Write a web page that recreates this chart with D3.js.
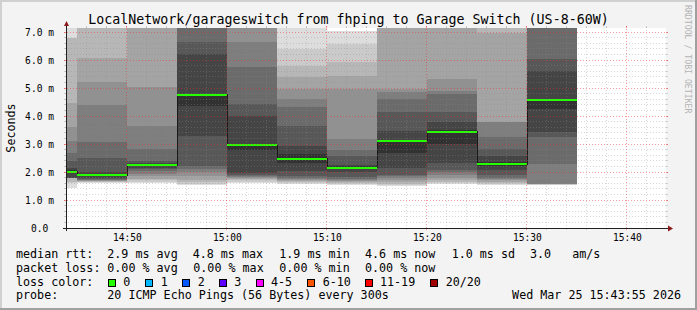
<!DOCTYPE html>
<html>
<head>
<meta charset="utf-8">
<script src="https://d3js.org/d3.v7.min.js"></script>
<style>
  body { margin: 0; background: #f3f3f3; }
  svg text { font-family: "DejaVu Sans Mono", monospace; white-space: pre; }
</style>
</head>
<body>
<script>
// Smokeping graph: LocalNetwork/garageswitch, last hour

// 5 minute rrd bins (start times), last one ends at 15:35
const binStarts = ["14:40", "14:45", "14:50", "14:55", "15:00", "15:05",
                   "15:10", "15:15", "15:20", "15:25", "15:30"];
const lastBinEnd = "15:35";
const graphStart = "14:43:55";
const graphEnd = "15:43:55";

// median rtt per bin (ms)
const medianRtt = [2.01, 1.88, 2.24, 4.76, 2.95, 2.48, 2.16, 3.12, 3.44, 2.27, 4.56];

// packet loss per bin (index into loss legend)
const binLoss = [0, 0, 0, 0, 0, 0, 0, 0, 0, 0, 0];

// the 20 sorted pings of every bin (ms), values above the top are off the graph
const smokePings = [
    [1.44, 1.62, 1.63, 1.78, 1.79, 1.79, 1.80, 1.80, 1.80, 1.98, 2.06, 2.15, 2.39, 2.68, 3.09, 3.60, 4.47, 6.79, 6.80, 7.9],
    [1.60, 1.63, 1.66, 1.68, 1.69, 1.70, 1.71, 1.74, 1.78, 1.84, 1.90, 1.99, 2.49, 3.08, 4.40, 5.22, 6.07, 7.6, 8.1, 8.8],
    [1.61, 1.65, 1.70, 1.75, 1.85, 1.93, 2.02, 2.11, 2.14, 2.21, 2.27, 2.32, 2.40, 2.82, 3.65, 5.05, 7.5, 7.9, 8.4, 9.2],
    [1.53, 1.58, 1.63, 1.72, 1.85, 1.99, 2.10, 2.23, 3.30, 4.37, 4.80, 6.21, 6.63, 7.3, 7.6, 7.9, 8.3, 8.7, 9.1, 9.8],
    [1.62, 1.66, 1.70, 1.74, 1.79, 1.82, 1.86, 1.90, 1.95, 2.80, 3.00, 4.01, 4.43, 5.74, 6.63, 7.4, 7.8, 8.2, 8.7, 9.3],
    [1.57, 1.60, 1.63, 1.67, 1.70, 1.75, 1.79, 1.87, 2.02, 2.32, 2.64, 2.94, 3.65, 4.31, 4.61, 4.97, 5.38, 5.80, 6.41, 7.7],
    [1.54, 1.58, 1.62, 1.66, 1.69, 1.72, 1.75, 1.81, 1.99, 2.10, 2.20, 2.25, 2.58, 2.79, 3.18, 4.97, 5.44, 5.92, 6.57, 7.05],
    [1.49, 1.53, 1.58, 1.65, 1.72, 1.80, 1.85, 1.90, 2.14, 2.68, 3.16, 3.48, 4.13, 4.61, 4.84, 4.96, 7.4, 7.9, 8.5, 9.0],
    [1.58, 1.62, 1.66, 1.72, 1.80, 1.90, 1.99, 2.08, 2.32, 3.00, 3.50, 3.80, 4.13, 4.79, 4.90, 5.32, 7.5, 7.9, 8.4, 9.1],
    [1.55, 1.58, 1.61, 1.66, 1.70, 1.75, 1.80, 1.90, 2.08, 2.20, 2.35, 2.58, 2.82, 3.24, 3.77, 3.80, 6.96, 7.6, 8.0, 8.6],
    [1.55, 1.55, 1.555, 1.56, 1.57, 1.58, 2.29, 3.24, 3.42, 4.25, 4.60, 5.62, 6.03, 7.3, 7.6, 7.9, 8.2, 8.6, 9.0, 9.5]
];

// axes
const yMax = 7.143;
const yTicks = [0, 1, 2, 3, 4, 5, 6, 7];
const yTickLabels = ["0.0 ", "1.0 m", "2.0 m", "3.0 m", "4.0 m", "5.0 m", "6.0 m", "7.0 m"];
const xTicks = ["14:50", "15:00", "15:10", "15:20", "15:30", "15:40"];

// legend values
const rttStats = [2.9, 4.8, 1.9, 4.6, 1.0];
const rttStatNames = ["avg", "max", "min", "now", "sd"];
const amPerSec = 3.0;
const lossStats = [0, 0, 0, 0];
const lossStatNames = ["avg", "max", "min", "now"];
const lossLabels = ["0", "1", "2", "3", "4-5", "6-10", "11-19", "20/20"];
const lossColors = ["#26ff00", "#00b8ff", "#0059ff", "#5e00ff", "#ff00ff", "#ff5500", "#ff0000", "#a10000"];
const probeText = "20 ICMP Echo Pings (56 Bytes) every 300s";
const stampText = "Wed Mar 25 15:43:55 2026";
const titleText = "LocalNetwork/garageswitch from fhping to Garage Switch (US-8-60W)";

function drawSmokeGraph() {
    const width = 697, height = 310;
    const plot = {left: 66, right: 666, top: 28, bottom: 228};
    const gridColor = "rgba(140,140,140,0.35)";
    const mgridColor = "rgba(240,40,40,0.45)";
    const arrowColor = "#8b1a1a";

    const svg = d3.select("body")
        .append("svg")
        .attr("width", width)
        .attr("height", height);

    // background + 3d frame
    svg.append("rect").attr("width", width).attr("height", height).attr("fill", "#f3f3f3");
    svg.append("rect").attr("width", width).attr("height", 2).attr("fill", "#d0d0d0");
    svg.append("rect").attr("width", 2).attr("height", height).attr("fill", "#d0d0d0");
    svg.append("rect").attr("y", height - 2).attr("width", width).attr("height", 2).attr("fill", "#a0a0a0");
    svg.append("rect").attr("x", width - 2).attr("width", 2).attr("height", height).attr("fill", "#a0a0a0");

    // canvas
    svg.append("rect")
        .attr("x", plot.left).attr("y", plot.top)
        .attr("width", plot.right - plot.left).attr("height", plot.bottom - plot.top)
        .attr("fill", "#ffffff");

    const parseTime = d3.timeParse("%Y-%m-%d %H:%M:%S");
    const toDate = s => parseTime("2026-03-25 " + (s.length == 5 ? s + ":00" : s));

    const x = d3.scaleTime()
        .domain([toDate(graphStart), toDate(graphEnd)])
        .range([plot.left, plot.right])
        .clamp(true);

    const y = d3.scaleLinear()
        .domain([0, yMax])
        .range([plot.bottom, plot.top])
        .clamp(true);

    const px = v => Math.floor(v) + 0.5;

    // bins
    const bins = binStarts.map((s, i) => ({
        start: toDate(s),
        end: toDate(i + 1 < binStarts.length ? binStarts[i + 1] : lastBinEnd),
        median: medianRtt[i],
        loss: binLoss[i],
        pings: smokePings[i]
    }));

    // smoke: 10 bands, lightest outer pair first, darkest inner pair last
    const half = 10;
    const grays = d3.range(1, half + 1).map(i => {
        const g = Math.floor(190 / half * (half - i)) + 50;
        return d3.rgb(g, g, g).formatHex();
    });

    const smoke = svg.append("g").attr("shape-rendering", "crispEdges");
    bins.forEach(b => {
        d3.range(half).forEach(k => {
            const lo = b.pings[k], hi = b.pings[19 - k];
            const x0 = Math.round(x(b.start)), x1 = Math.round(x(b.end));
            const y0 = Math.round(y(hi)), y1 = Math.round(y(lo));
            smoke.append("rect")
                .attr("x", x0).attr("y", y0)
                .attr("width", x1 - x0).attr("height", Math.max(0, y1 - y0))
                .attr("fill", grays[k]);
        });
    });

    // median: dark step line, then loss coloured bars
    const stepPoints = bins.map(b => [b.start, b.median]);
    stepPoints.push([bins[bins.length - 1].end, bins[bins.length - 1].median]);
    svg.append("path")
        .datum(stepPoints)
        .attr("d", d3.line().x(d => Math.round(x(d[0]))).y(d => px(y(d[1]))).curve(d3.curveStepAfter))
        .attr("fill", "none")
        .attr("stroke", "#1a1a1a")
        .attr("stroke-width", 1)
        .attr("shape-rendering", "crispEdges");

    svg.append("g").attr("shape-rendering", "crispEdges")
        .selectAll("rect")
        .data(bins)
        .join("rect")
        .attr("x", d => Math.round(x(d.start)))
        .attr("y", d => Math.round(y(d.median)) - 1)
        .attr("width", d => Math.round(x(d.end)) - Math.round(x(d.start)))
        .attr("height", 2)
        .attr("fill", d => lossColors[d.loss]);

    // grid on top (rrdtool style: dashed lines + short solid ticks outside the canvas)
    const grid = svg.append("g").attr("shape-rendering", "crispEdges");

    const yMinor = d3.range(0, yMax, 0.2).filter(v => Math.abs(v - Math.round(v)) > 0.01);
    const xMajor = x.ticks(d3.timeMinute.every(10));
    const xMinor = x.ticks(d3.timeMinute.every(2)).filter(d => d.getMinutes() % 10 != 0);

    function hLines(vals, color, ext) {
        vals.forEach(v => {
            const yy = px(y(v));
            grid.append("line").attr("x1", plot.left - ext).attr("x2", plot.right + ext)
                .attr("y1", yy).attr("y2", yy)
                .attr("stroke", color).attr("stroke-dasharray", "1,2");
            grid.append("line").attr("x1", plot.left - 2).attr("x2", plot.left)
                .attr("y1", yy).attr("y2", yy).attr("stroke", color);
            grid.append("line").attr("x1", plot.right).attr("x2", plot.right + 2)
                .attr("y1", yy).attr("y2", yy).attr("stroke", color);
        });
    }
    function vLines(vals, color, ext) {
        vals.forEach(d => {
            const xx = px(x(d));
            grid.append("line").attr("x1", xx).attr("x2", xx)
                .attr("y1", plot.top - ext).attr("y2", plot.bottom + ext)
                .attr("stroke", color).attr("stroke-dasharray", "1,2");
            grid.append("line").attr("x1", xx).attr("x2", xx)
                .attr("y1", plot.bottom).attr("y2", plot.bottom + 2).attr("stroke", color);
            grid.append("line").attr("x1", xx).attr("x2", xx)
                .attr("y1", plot.top - 2).attr("y2", plot.top).attr("stroke", color);
        });
    }
    hLines(yMinor, gridColor, 1);
    vLines(xMinor, gridColor, 1);
    hLines(yTicks, mgridColor, 2);
    vLines(xMajor, mgridColor, 2);

    // axis lines and arrows
    svg.append("line")
        .attr("x1", plot.left - 3).attr("x2", plot.right + 3)
        .attr("y1", px(plot.bottom)).attr("y2", px(plot.bottom))
        .attr("stroke", "#202020").attr("shape-rendering", "crispEdges");
    svg.append("line")
        .attr("x1", px(plot.left)).attr("x2", px(plot.left))
        .attr("y1", plot.bottom + 3).attr("y2", plot.top - 4)
        .attr("stroke", "#202020").attr("shape-rendering", "crispEdges");
    svg.append("polygon")
        .attr("points", [[plot.left - 2, plot.top - 2], [plot.left + 3, plot.top - 2], [plot.left + 0.5, plot.top - 7]].join(" "))
        .attr("fill", arrowColor);
    svg.append("polygon")
        .attr("points", [[plot.right + 2, plot.bottom - 2.5], [plot.right + 2, plot.bottom + 3.5], [plot.right + 7, plot.bottom + 0.5]].join(" "))
        .attr("fill", arrowColor);

    // tick labels
    const yAxis = d3.axisLeft(y)
        .tickValues(yTicks)
        .tickFormat((d, i) => yTickLabels[i])
        .tickSize(0)
        .tickPadding(12);
    const yg = svg.append("g")
        .attr("transform", "translate(" + plot.left + ",0)")
        .call(yAxis);
    yg.select(".domain").remove();
    yg.selectAll("text")
        .style("font-family", "DejaVu Sans Mono")
        .style("font-size", "9.6px")
        .attr("fill", "#000");

    const xAxis = d3.axisBottom(x)
        .tickValues(xTicks.map(toDate))
        .tickFormat((d, i) => xTicks[i])
        .tickSize(0)
        .tickPadding(6.5);
    const xg = svg.append("g")
        .attr("transform", "translate(0," + plot.bottom + ")")
        .call(xAxis);
    xg.select(".domain").remove();
    xg.selectAll("text")
        .style("font-family", "DejaVu Sans Mono")
        .style("font-size", "9.6px")
        .attr("fill", "#000");

    // title and axis label
    svg.append("text")
        .attr("x", width / 2).attr("y", 24)
        .attr("text-anchor", "middle")
        .style("font-size", "13.3px")
        .text(titleText);

    svg.append("text")
        .attr("transform", "translate(15," + (plot.top + plot.bottom) / 2 + ") rotate(-90)")
        .attr("text-anchor", "middle")
        .style("font-size", "11.7px")
        .text("Seconds");

    svg.append("text")
        .attr("transform", "translate(685,5) rotate(90)")
        .attr("text-anchor", "start")
        .style("font-size", "8.2px")
        .attr("fill", "#b4b4b4")
        .text("RRDTOOL / TOBI OETIKER");

    // legend
    const legend = svg.append("g").style("font-size", "11.7px").attr("fill", "#000");
    const rowY = [258, 271.8, 285.6, 299.4];
    const labelX = 16;
    const rttX = [107.3, 192.7, 279.3, 365, 451.7];
    const lossX = [107.3, 193.3, 279.3, 365];
    const boxX = [108.3, 145.7, 182.7, 219.3, 256, 307.7, 365, 430.7];

    legend.append("text").attr("x", labelX).attr("y", rowY[0]).text("median rtt:");
    rttStats.forEach((v, i) => {
        legend.append("text").attr("x", rttX[i]).attr("y", rowY[0])
            .text(d3.format(".1f")(v) + " ms " + rttStatNames[i]);
    });
    legend.append("text").attr("x", 530).attr("y", rowY[0])
        .text(d3.format(".1f")(amPerSec) + "   am/s");

    legend.append("text").attr("x", labelX).attr("y", rowY[1]).text("packet loss:");
    lossStats.forEach((v, i) => {
        legend.append("text").attr("x", lossX[i]).attr("y", rowY[1])
            .text(d3.format(".2f")(v) + " % " + lossStatNames[i]);
    });

    legend.append("text").attr("x", labelX).attr("y", rowY[2]).text("loss color:");
    lossLabels.forEach((lab, i) => {
        legend.append("rect")
            .attr("x", Math.floor(boxX[i]) + 0.5).attr("y", 279.5)
            .attr("width", 7).attr("height", 7)
            .attr("fill", lossColors[i])
            .attr("stroke", "#000")
            .attr("shape-rendering", "crispEdges");
        legend.append("text").attr("x", boxX[i] + 15).attr("y", rowY[2]).text(lab);
    });

    legend.append("text").attr("x", labelX).attr("y", rowY[3]).text("probe:");
    legend.append("text").attr("x", 107.3).attr("y", rowY[3]).text(probeText);
    legend.append("text").attr("x", 681).attr("y", rowY[3])
        .attr("text-anchor", "end").text(stampText);
}

drawSmokeGraph();
</script>
</body>
</html>
